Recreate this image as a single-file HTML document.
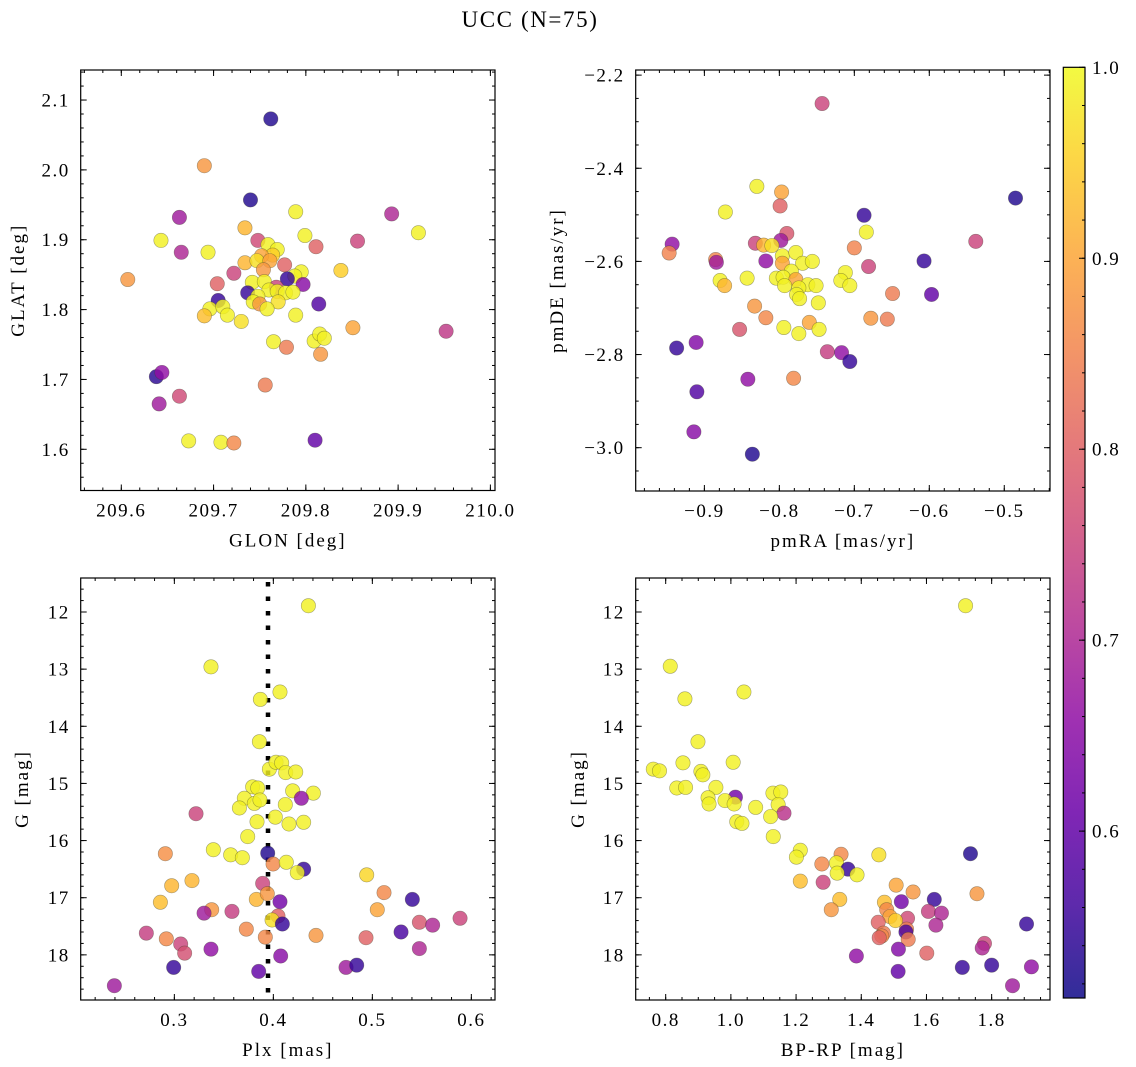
<!DOCTYPE html>
<html><head><meta charset="utf-8">
<style>
html,body{margin:0;padding:0;background:#fff;}
svg{display:block;font-family:"Liberation Serif","DejaVu Serif",serif;}
</style></head>
<body>
<svg id="fig" width="1136" height="1067" viewBox="0 0 1136 1067" xmlns="http://www.w3.org/2000/svg">
<rect width="1136" height="1067" fill="#fff"/>
<text x="530" y="27" font-size="23" letter-spacing="1.6" text-anchor="middle">UCC (N=75)</text>
<defs>
<linearGradient id="plasma" x1="0" y1="1" x2="0" y2="0">
</linearGradient>
</defs>
</svg>
<script>
// ---------- data ----------
const glon = [209.762,209.690,209.740,209.663,209.789,209.893,209.922,209.643,209.734,209.748,209.799,209.811,209.856,209.665,209.694,209.759,209.769,209.764,209.752,209.734,209.747,209.761,209.777,209.754,209.838,209.607,209.722,209.795,209.788,209.780,209.797,209.704,209.742,209.755,209.768,209.760,209.769,209.778,209.786,209.737,209.748,209.705,209.743,209.750,209.770,209.758,209.814,209.696,209.710,209.690,209.715,209.730,209.789,209.851,209.952,209.765,209.779,209.809,209.815,209.820,209.816,209.638,209.644,209.663,209.641,209.756,209.673,209.708,209.722,209.810];
const glat = [2.073,2.006,1.957,1.932,1.940,1.937,1.910,1.899,1.917,1.899,1.906,1.890,1.898,1.882,1.882,1.893,1.886,1.878,1.877,1.867,1.870,1.870,1.864,1.857,1.856,1.843,1.852,1.854,1.848,1.844,1.836,1.837,1.839,1.840,1.832,1.828,1.826,1.824,1.825,1.824,1.819,1.813,1.811,1.808,1.811,1.801,1.808,1.801,1.804,1.791,1.792,1.783,1.792,1.774,1.769,1.754,1.746,1.755,1.765,1.759,1.736,1.704,1.710,1.676,1.665,1.692,1.612,1.610,1.609,1.613];
const probPos = [0.53,0.88,0.53,0.68,0.99,0.70,0.99,0.99,0.92,0.76,0.99,0.80,0.75,0.70,0.99,0.99,0.99,0.95,0.90,0.92,0.97,0.90,0.80,0.88,0.95,0.88,0.75,0.99,0.99,0.55,0.65,0.80,0.99,0.99,0.75,0.99,0.99,0.99,0.99,0.55,0.99,0.55,0.99,0.88,0.97,0.99,0.58,0.99,0.99,0.93,0.99,0.97,0.99,0.90,0.73,0.99,0.84,0.99,0.99,0.99,0.88,0.54,0.66,0.76,0.68,0.84,0.99,0.99,0.86,0.60];

const pmra = [-0.743,-0.830,-0.797,-0.799,-0.872,-0.485,-0.687,-0.684,-0.790,-0.798,-0.832,-0.821,-0.810,-0.943,-0.947,-0.538,-0.700,-0.796,-0.778,-0.885,-0.884,-0.818,-0.796,-0.769,-0.756,-0.607,-0.681,-0.784,-0.712,-0.843,-0.804,-0.795,-0.778,-0.718,-0.879,-0.873,-0.793,-0.762,-0.751,-0.774,-0.706,-0.777,-0.773,-0.597,-0.649,-0.748,-0.833,-0.818,-0.678,-0.656,-0.760,-0.794,-0.747,-0.774,-0.853,-0.937,-0.911,-0.736,-0.717,-0.706,-0.842,-0.781,-0.910,-0.914,-0.836];
const pmde = [-2.261,-2.439,-2.451,-2.481,-2.494,-2.464,-2.501,-2.537,-2.540,-2.555,-2.561,-2.565,-2.566,-2.563,-2.582,-2.557,-2.571,-2.588,-2.581,-2.596,-2.602,-2.599,-2.604,-2.604,-2.600,-2.599,-2.611,-2.621,-2.624,-2.636,-2.636,-2.634,-2.639,-2.641,-2.641,-2.652,-2.652,-2.650,-2.652,-2.657,-2.652,-2.671,-2.680,-2.671,-2.669,-2.689,-2.696,-2.721,-2.722,-2.724,-2.731,-2.742,-2.746,-2.755,-2.746,-2.786,-2.774,-2.794,-2.796,-2.815,-2.853,-2.851,-2.880,-2.966,-3.014];
const probPm = [0.75,0.99,0.90,0.80,0.99,0.53,0.55,0.99,0.78,0.68,0.75,0.92,0.97,0.66,0.85,0.75,0.85,0.99,0.99,0.85,0.68,0.66,0.90,0.99,0.99,0.55,0.75,0.99,0.99,0.99,0.99,0.99,0.90,0.99,0.99,0.92,0.99,0.99,0.99,0.99,0.99,0.99,0.99,0.60,0.84,0.99,0.88,0.86,0.88,0.84,0.90,0.99,0.99,0.99,0.78,0.55,0.64,0.74,0.66,0.55,0.66,0.86,0.58,0.65,0.53];

const plx = [0.4354,0.3370,0.4067,0.3869,0.3859,0.3960,0.4027,0.4084,0.4125,0.4226,0.3791,0.3842,0.3707,0.4195,0.4404,0.4283,0.3657,0.3808,0.3865,0.4121,0.3219,0.4020,0.3835,0.4158,0.4306,0.3741,0.2909,0.3394,0.3569,0.3687,0.3943,0.3997,0.4131,0.4306,0.4242,0.4943,0.3178,0.2973,0.3892,0.5118,0.2859,0.3828,0.3939,0.4067,0.5404,0.3377,0.3300,0.3582,0.5050,0.4047,0.3987,0.4091,0.5475,0.5609,0.5886,0.2717,0.3727,0.4431,0.2919,0.3919,0.4936,0.5290,0.3064,0.3104,0.3370,0.5475,0.4074,0.2993,0.3852,0.4734,0.4842,0.2394];
const gPlx = [11.89,12.96,13.40,13.53,14.27,14.75,14.63,14.64,14.81,14.80,15.06,15.08,15.26,15.13,15.17,15.26,15.43,15.35,15.29,15.37,15.53,15.59,15.67,15.71,15.68,15.93,16.23,16.16,16.25,16.30,16.22,16.41,16.38,16.50,16.56,16.60,16.70,16.79,16.75,16.91,17.08,17.03,16.93,17.07,17.03,17.21,17.27,17.24,17.21,17.32,17.39,17.46,17.43,17.48,17.36,17.62,17.55,17.66,17.72,17.69,17.70,17.60,17.81,17.97,17.90,17.89,18.02,18.22,18.29,18.22,18.18,18.54];
const probPlx = [0.99,0.99,0.99,0.99,0.99,0.99,0.99,0.99,0.99,0.99,0.99,0.99,0.99,0.99,0.99,0.66,0.99,0.99,0.99,0.99,0.75,0.99,0.99,0.99,0.99,0.99,0.87,0.99,0.99,0.99,0.53,0.86,0.99,0.55,0.99,0.96,0.92,0.92,0.75,0.86,0.93,0.92,0.88,0.62,0.55,0.88,0.68,0.74,0.90,0.80,0.97,0.55,0.78,0.70,0.75,0.74,0.86,0.88,0.86,0.86,0.80,0.57,0.75,0.77,0.66,0.70,0.65,0.55,0.60,0.68,0.55,0.68];
const plxMedian = 0.3946;

const bprp = [1.720,0.814,0.859,1.040,0.899,0.853,1.007,0.762,0.781,0.908,0.914,0.834,0.861,0.954,0.930,1.014,0.933,0.982,1.010,1.129,1.153,1.145,1.163,1.076,1.122,1.018,1.034,1.130,1.213,1.201,1.338,1.454,1.279,1.324,1.359,1.326,1.387,1.735,1.213,1.283,1.507,1.559,1.755,1.334,1.523,1.624,1.471,1.308,1.478,1.606,1.646,1.488,1.542,1.505,1.452,1.629,1.539,1.537,1.468,1.463,1.455,1.544,1.907,1.778,1.771,1.514,1.601,1.385,1.710,1.800,1.513,1.922,1.864];
const gCmd = [11.89,12.95,13.52,13.40,14.27,14.64,14.63,14.75,14.78,14.79,14.85,15.08,15.07,15.07,15.25,15.24,15.36,15.30,15.36,15.17,15.15,15.37,15.52,15.42,15.58,15.67,15.70,15.93,16.17,16.29,16.24,16.25,16.41,16.39,16.50,16.57,16.60,16.23,16.71,16.73,16.78,16.90,16.93,17.03,17.07,17.03,17.08,17.21,17.21,17.24,17.27,17.33,17.36,17.40,17.43,17.48,17.55,17.60,17.62,17.67,17.70,17.73,17.46,17.80,17.88,17.90,17.97,18.02,18.22,18.18,18.29,18.21,18.54];
const probCmd = [0.99,0.99,0.99,0.99,0.99,0.99,0.99,0.99,0.99,0.99,0.99,0.99,0.99,0.99,0.99,0.62,0.99,0.99,0.99,0.99,0.99,0.99,0.72,0.99,0.99,0.99,0.99,0.99,0.99,0.99,0.86,0.97,0.86,0.99,0.55,0.99,0.99,0.53,0.93,0.75,0.90,0.88,0.88,0.93,0.62,0.55,0.93,0.88,0.86,0.74,0.70,0.90,0.76,0.95,0.80,0.70,0.84,0.57,0.84,0.86,0.80,0.84,0.55,0.75,0.70,0.64,0.80,0.66,0.55,0.55,0.60,0.66,0.68];

const cbTicks = [0.6,0.7,0.8,0.9,1.0];
const cbMin = 0.5126, cbMax = 1.0;

// ---------- helpers ----------
const NS = "http://www.w3.org/2000/svg";
const svg = document.getElementById('fig');
const TFS = 19, TLS = 1.5, LFS = 19, LLS = 2;
function mk(tag, attrs, parent){
  const e = document.createElementNS(NS, tag);
  for (const k in attrs) e.setAttribute(k, attrs[k]);
  (parent||svg).appendChild(e);
  return e;
}
const plasmaStops = [[13,8,135],[65,4,157],[106,0,168],[143,13,164],[177,42,144],[204,71,120],[225,100,98],[242,132,75],[252,166,54],[252,206,37],[240,249,33]];
function plasma(t){
  t = Math.max(0, Math.min(1, t));
  const f = t*10, i = Math.min(9, Math.floor(f)), r = f - i;
  const a = plasmaStops[i], b = plasmaStops[i+1];
  return `rgb(${Math.round(a[0]+(b[0]-a[0])*r)},${Math.round(a[1]+(b[1]-a[1])*r)},${Math.round(a[2]+(b[2]-a[2])*r)})`;
}
function colorOf(p){ return plasma((p - cbMin)/(cbMax - cbMin)); }
function fmt(v, d){ const s = v.toFixed(d); return s.replace('-', '\u2212'); }

function panel(cfg){
  const g = mk('g', {});
  
  
  const {L,R,T,B,x0,x1,y0,y1} = cfg;
  const sx = v => L + (v - x0)/(x1 - x0)*(R - L);
  const sy = v => cfg.invert ? T + (v - y0)/(y1 - y0)*(B - T) : B - (v - y0)/(y1 - y0)*(B - T);
  const cid = 'clip-' + cfg.name;
  const cp = mk('clipPath', {id: cid}, g);
  mk('rect', {x:L, y:T, width:R-L, height:B-T}, cp);
  const pts = mk('g', {'clip-path': `url(#${cid})`}, g);
  
  
  if (cfg.vline !== undefined){
    const ln = mk('line', {x1:sx(cfg.vline), x2:sx(cfg.vline), y1:T+4, y2:B, stroke:'#000', 'stroke-width':4.5, 'stroke-dasharray':'4.5 10'}, pts);
    
    
  }
  for (let i = 0; i < cfg.xs.length; i++){
    const c = mk('circle', {cx: sx(cfg.xs[i]), cy: sy(cfg.ys[i]), r: 7.2, fill: colorOf(cfg.ps[i]), 'fill-opacity': 0.82, stroke: 'rgba(60,60,40,0.45)', 'stroke-width': 0.6}, pts);
    
    
  }
  mk('rect', {x:L, y:T, width:R-L, height:B-T, fill:'none', stroke:'#000', 'stroke-width':1.2}, g);
  const tk = mk('g', {stroke:'#000', 'stroke-width':1}, g);
  const eps = 1e-9;
  function range(a, b, step){ const out=[]; const s=Math.ceil((a-eps)/step); for(let k=s; k*step<=b+eps; k++) out.push(k*step); return out; }
  range(Math.min(x0,x1), Math.max(x0,x1), cfg.xminor).forEach(v=>{
    const x = sx(v); mk('line',{x1:x,x2:x,y1:B,y2:B-3},tk); mk('line',{x1:x,x2:x,y1:T,y2:T+3},tk);
  });
  range(Math.min(y0,y1), Math.max(y0,y1), cfg.yminor).forEach(v=>{
    const y = sy(v); mk('line',{x1:L,x2:L+3,y1:y,y2:y},tk); mk('line',{x1:R,x2:R-3,y1:y,y2:y},tk);
  });
  cfg.xticks.forEach(v=>{
    const x = sx(v);
    mk('line',{x1:x,x2:x,y1:B,y2:B-6},tk); mk('line',{x1:x,x2:x,y1:T,y2:T+6},tk);
    const t = mk('text',{x:x, y:B+26, 'font-size':TFS, 'letter-spacing':TLS, 'text-anchor':'middle'}, g);
    t.textContent = fmt(v, cfg.xdec);
    
    
  });
  cfg.yticks.forEach(v=>{
    const y = sy(v);
    mk('line',{x1:L,x2:L+6,y1:y,y2:y},tk); mk('line',{x1:R,x2:R-6,y1:y,y2:y},tk);
    const t = mk('text',{x:L-11, y:y+6.5, 'font-size':TFS, 'letter-spacing':TLS, 'text-anchor':'end'}, g);
    t.textContent = fmt(v, cfg.ydec);
    
    
  });
  const xl = mk('text',{x:(L+R)/2, y:B+56, 'font-size':LFS, 'letter-spacing':LLS, 'text-anchor':'middle'}, g);
  xl.textContent = cfg.xlabel;
  
  
  const yl = mk('text',{x:0, y:0, 'font-size':LFS, 'letter-spacing':LLS, 'text-anchor':'middle', transform:`translate(${cfg.ylx},${(T+B)/2}) rotate(-90)`}, g);
  yl.textContent = cfg.ylabel;
  
  
}

panel({name:'glon-glat-panel', L:80.7, R:495, T:70, B:490.5, x0:209.556, x1:210.005, y0:1.541, y1:2.143,
  xs:glon, ys:glat, ps:probPos, xticks:[209.6,209.7,209.8,209.9,210.0], xdec:1, xminor:0.02,
  yticks:[1.6,1.7,1.8,1.9,2.0,2.1], ydec:1, yminor:0.02, xlabel:'GLON [deg]', ylabel:'GLAT [deg]', ylx:24});
panel({name:'pm-panel', L:635.7, R:1050, T:70, B:491, x0:-0.9916, x1:-0.439, y0:-3.093, y1:-2.189,
  xs:pmra, ys:pmde, ps:probPm, xticks:[-0.9,-0.8,-0.7,-0.6,-0.5], xdec:1, xminor:0.02,
  yticks:[-3.0,-2.8,-2.6,-2.4,-2.2], ydec:1, yminor:0.05, xlabel:'pmRA [mas/yr]', ylabel:'pmDE [mas/yr]', ylx:563});
panel({name:'plx-g-panel', L:80.7, R:495, T:578, B:1000, x0:0.2054, x1:0.6239, y0:11.405, y1:18.79, invert:true,
  xs:plx, ys:gPlx, ps:probPlx, vline:plxMedian, xticks:[0.3,0.4,0.5,0.6], xdec:1, xminor:0.02,
  yticks:[12,13,14,15,16,17,18], ydec:0, yminor:0.2, xlabel:'Plx [mas]', ylabel:'G [mag]', ylx:28});
panel({name:'cmd-panel', L:635.7, R:1050, T:578, B:1000, x0:0.708, x1:1.979, y0:11.405, y1:18.79, invert:true,
  xs:bprp, ys:gCmd, ps:probCmd, xticks:[0.8,1.0,1.2,1.4,1.6,1.8], xdec:1, xminor:0.05,
  yticks:[12,13,14,15,16,17,18], ydec:0, yminor:0.2, xlabel:'BP-RP [mag]', ylabel:'G [mag]', ylx:584});

// ---------- colorbar ----------
(function(){
  const grad = document.getElementById('plasma');
  for (let i = 0; i <= 10; i++){
    mk('stop', {offset: (i*10)+'%', 'stop-color': plasma(i/10), 'stop-opacity': 0.85}, grad);
  }
  const L=1063.3, R=1085, T=67.3, B=998;
  const g = mk('g', {});
  
  
  mk('rect', {x:L, y:T, width:R-L, height:B-T, fill:'url(#plasma)', stroke:'#000', 'stroke-width':1.2}, g);
  const sy = v => B - (v - cbMin)/(cbMax - cbMin)*(B - T);
  for (let k = 26; k <= 50; k++){
    const v = k*0.02; if (v < cbMin) continue;
    const y = sy(v); mk('line',{x1:R,x2:R-3,y1:y,y2:y,stroke:'#000','stroke-width':1}, g);
  }
  cbTicks.forEach(v=>{
    const y = sy(v);
    mk('line',{x1:R,x2:R-6,y1:y,y2:y,stroke:'#000','stroke-width':1}, g);
    const t = mk('text',{x:R+7, y:y+6.5, 'font-size':TFS, 'letter-spacing':TLS}, g);
    t.textContent = v.toFixed(1);
    
    
  });
})();
</script>
</body></html>
